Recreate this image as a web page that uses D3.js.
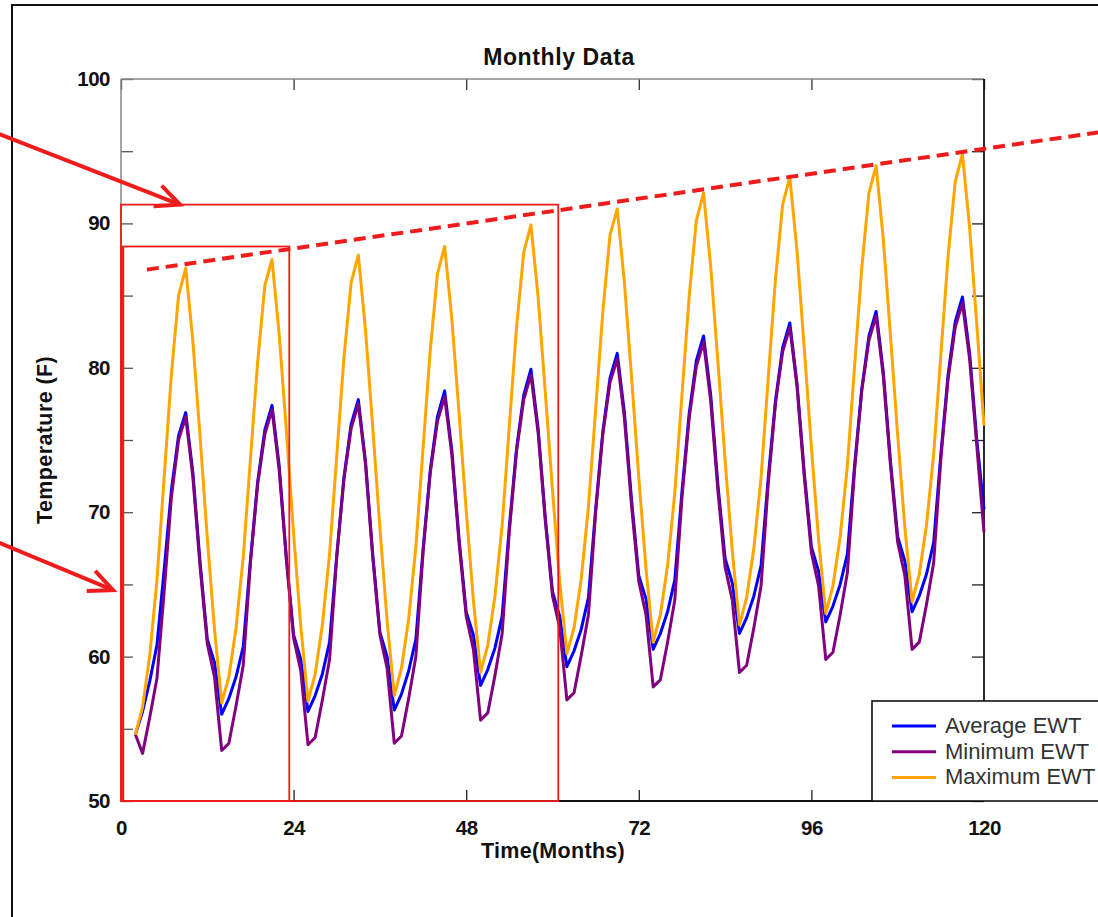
<!DOCTYPE html>
<html>
<head>
<meta charset="utf-8">
<script src="https://cdn.jsdelivr.net/npm/d3@7"></script>
<style>
  body { margin: 0; background: #fff; }
  svg { display: block; font-family: "Liberation Sans", Arial, sans-serif; }
</style>
</head>
<body>
<div id="chart"></div>
<script>
// monthly EWT data, month 2 .. 120
const months = d3.range(2, 121);

const maxEWT = [54.6, 56.5, 60.1, 65.3, 72.4, 79.5, 85.0, 86.9,
  81.8, 75.2, 68.2, 61.9, 56.8, 58.6, 62.0, 66.9, 73.7, 80.4, 85.7, 87.5,
  82.3, 75.6, 68.5, 62.1, 56.9, 58.8, 62.2, 67.1, 73.9, 80.7, 85.9, 87.8,
  82.6, 75.9, 68.9, 62.5, 57.3, 59.2, 62.6, 67.6, 74.4, 81.2, 86.5, 88.4,
  83.4, 76.9, 70.1, 63.9, 58.9, 60.8, 64.2, 69.1, 76.0, 82.8, 88.0, 89.9,
  84.9, 78.3, 71.5, 65.2, 60.2, 62.0, 65.4, 70.4, 77.1, 83.9, 89.2, 91.0,
  85.9, 79.3, 72.4, 66.1, 61.0, 62.9, 66.3, 71.3, 78.1, 84.9, 90.2, 92.1,
  87.0, 80.4, 73.6, 67.3, 62.2, 64.1, 67.5, 72.4, 79.3, 86.1, 91.3, 93.2,
  88.1, 81.4, 74.5, 68.1, 63.0, 64.9, 68.3, 73.2, 80.1, 86.9, 92.1, 94.0,
  88.9, 82.2, 75.3, 68.9, 63.8, 65.7, 69.1, 74.0, 80.9, 87.7, 92.9, 94.8,
  89.7, 83.0, 76.0];

const avgEWT = [54.6, 56.2, 58.3, 60.8, 66.0, 71.5, 75.3, 76.9,
  72.7, 66.5, 61.2, 59.6, 56.0, 57.1, 58.6, 60.7, 66.7, 72.1, 75.7, 77.4,
  73.2, 66.8, 61.5, 59.8, 56.2, 57.3, 58.8, 61.0, 67.0, 72.4, 76.1, 77.8,
  73.5, 67.1, 61.7, 60.0, 56.3, 57.4, 59.0, 61.2, 67.4, 72.9, 76.6, 78.4,
  74.3, 68.2, 63.1, 61.5, 58.0, 59.1, 60.6, 62.8, 69.0, 74.4, 78.1, 79.9,
  75.8, 69.6, 64.5, 62.8, 59.3, 60.4, 61.9, 64.1, 70.2, 75.6, 79.3, 81.0,
  76.9, 70.8, 65.6, 64.0, 60.5, 61.6, 63.1, 65.3, 71.4, 76.8, 80.5, 82.2,
  78.1, 71.9, 66.8, 65.1, 61.6, 62.7, 64.2, 66.3, 72.4, 77.7, 81.4, 83.1,
  78.9, 72.8, 67.6, 65.9, 62.4, 63.5, 65.0, 67.1, 73.2, 78.5, 82.2, 83.9,
  79.7, 73.5, 68.3, 66.6, 63.1, 64.2, 65.7, 67.9, 74.0, 79.5, 83.2, 84.9,
  81.0, 75.0, 70.2];

const minEWT = [54.6, 53.3, 55.8, 58.5, 64.5, 71.0, 75.0, 76.6,
  72.4, 66.2, 60.9, 58.6, 53.5, 54.0, 56.6, 59.4, 66.5, 71.9, 75.4, 77.1,
  72.9, 66.7, 61.3, 59.0, 53.9, 54.4, 57.0, 59.8, 66.9, 72.3, 75.8, 77.5,
  73.3, 66.9, 61.5, 59.2, 54.0, 54.5, 57.1, 60.0, 67.2, 72.7, 76.3, 78.0,
  74.0, 67.9, 62.8, 60.5, 55.6, 56.1, 58.7, 61.6, 68.7, 74.2, 77.8, 79.5,
  75.5, 69.4, 64.2, 62.0, 57.0, 57.5, 60.1, 62.9, 70.0, 75.4, 79.0, 80.6,
  76.5, 70.4, 65.2, 62.9, 57.9, 58.4, 61.0, 63.9, 71.0, 76.5, 80.1, 81.8,
  77.7, 71.5, 66.2, 63.9, 58.9, 59.4, 62.0, 64.9, 72.0, 77.5, 81.1, 82.8,
  78.7, 72.5, 67.2, 64.9, 59.8, 60.3, 62.9, 65.8, 72.9, 78.4, 81.9, 83.6,
  79.4, 73.2, 67.9, 65.6, 60.5, 61.0, 63.6, 66.5, 73.7, 79.2, 82.8, 84.5,
  80.6, 74.6, 68.6];

const seriesNames = ["Average EWT", "Minimum EWT", "Maximum EWT"];
const seriesColors = ["#0000ff", "#800080", "#ffa500"];
const xTicks = [0, 24, 48, 72, 96, 120];
const yTicks = [50, 55, 60, 65, 70, 75, 80, 85, 90, 95, 100];

// red annotations (data units)
const boxes = [ {x0: 0, x1: 23.4, y1: 88.4}, {x0: 0, x1: 60.8, y1: 91.3} ];
const trendLine = [ {m: 3.6, t: 86.8}, {m: 140, t: 96.6} ];
const arrows = [ {from: [-17, 96.2], to: [8.2, 91.3]}, {from: [-17, 67.9], to: [-1.1, 64.6]} ];

const W = 1098, H = 917;
const margin = {top: 79, right: 114, bottom: 116, left: 121};
const width = W - margin.left - margin.right,
      height = H - margin.top - margin.bottom;

const x = d3.scaleLinear().domain([0, 120]).range([0, width]);
const y = d3.scaleLinear().domain([50, 100]).range([height, 0]);

const svg = d3.select("#chart").append("svg")
    .attr("width", W).attr("height", H);

// outer frame of the slide
svg.append("rect")
    .attr("x", 12).attr("y", 5).attr("width", W + 20).attr("height", H + 20)
    .attr("fill", "none").attr("stroke", "#111").attr("stroke-width", 2);

const g = svg.append("g")
    .attr("transform", "translate(" + margin.left + "," + margin.top + ")");

//axes, ticks pointing inwards
function styleAxis(sel, col){
  sel.select(".domain").remove();
  sel.selectAll(".tick line").attr("stroke", col).attr("stroke-width", 1.3);
  sel.selectAll("text").attr("font-family", "'Liberation Sans', Arial, sans-serif")
     .attr("font-size", 20.5).attr("font-weight", "bold").attr("fill", "#111")
     .attr("letter-spacing", "-0.5px");
}

g.append("g")
    .call(d3.axisLeft(y).tickValues(yTicks).tickSize(-12).tickPadding(11)
      .tickFormat(d => d % 10 === 0 ? d : ""))
    .call(styleAxis, "#555");

g.append("g")
    .attr("transform", "translate(" + width + ",0)")
    .call(d3.axisRight(y).tickValues(yTicks).tickSize(-12).tickFormat(""))
    .call(styleAxis, "#222");

g.append("g")
    .attr("transform", "translate(0," + height + ")")
    .call(d3.axisBottom(x).tickValues(xTicks).tickSize(-11).tickPadding(19))
    .call(styleAxis, "#222");

g.append("g")
    .call(d3.axisTop(x).tickValues(xTicks).tickSize(-11).tickFormat(""))
    .call(styleAxis, "#333");

// box lines
g.append("line").attr("x1", 0).attr("x2", width).attr("y1", 0).attr("y2", 0)
    .attr("stroke", "#888").attr("stroke-width", 1.5);
g.append("line").attr("x1", 0).attr("x2", 0).attr("y1", 0).attr("y2", height)
    .attr("stroke", "#888").attr("stroke-width", 1.5);
g.append("line").attr("x1", width).attr("x2", width).attr("y1", 0).attr("y2", height)
    .attr("stroke", "#111").attr("stroke-width", 1.8);
g.append("line").attr("x1", 0).attr("x2", width).attr("y1", height).attr("y2", height)
    .attr("stroke", "#111").attr("stroke-width", 1.8);

// the three series
const series = [avgEWT, minEWT, maxEWT];
const line = d3.line().x((d, i) => x(months[i])).y(d => y(d));

series.forEach(function(s, k){
  g.append("path")
      .datum(s)
      .attr("fill", "none")
      .attr("stroke", seriesColors[k])
      .attr("stroke-width", 3)
      .attr("stroke-linejoin", "round")
      .attr("d", line);
});

// legend
const lg = svg.append("g").attr("transform", "translate(872,701)");
lg.append("rect").attr("width", 260).attr("height", 100)
    .attr("fill", "#fff").attr("stroke", "#111").attr("stroke-width", 1.6);
seriesNames.forEach(function(name, k){
  lg.append("line").attr("x1", 20).attr("x2", 64)
      .attr("y1", 25 + k * 25.7).attr("y2", 25 + k * 25.7)
      .attr("stroke", seriesColors[k]).attr("stroke-width", 3);
  lg.append("text").attr("x", 73).attr("y", 32 + k * 25.7)
      .attr("font-size", 22).attr("fill", "#333")
      .text(name);
});

// title and axis labels
svg.append("text")
    .attr("x", 559).attr("y", 65)
    .attr("text-anchor", "middle")
    .attr("font-size", 23).attr("font-weight", "bold").attr("fill", "#111")
    .attr("letter-spacing", "0.6px")
    .text("Monthly Data");

svg.append("text")
    .attr("x", 553).attr("y", 858)
    .attr("text-anchor", "middle")
    .attr("font-size", 21.5).attr("font-weight", "bold").attr("fill", "#111")
    .attr("letter-spacing", "0.3px")
    .text("Time(Months)");

svg.append("text")
    .attr("transform", "translate(52,440) rotate(-90)")
    .attr("text-anchor", "middle")
    .attr("font-size", 21.5).attr("font-weight", "bold").attr("fill", "#111")
    .attr("letter-spacing", "0.4px")
    .text("Temperature (F)");

// red annotations on top
const red = "#f01c1c";
boxes.forEach(function(b){
  g.append("rect")
      .attr("x", x(b.x0)).attr("y", y(b.y1))
      .attr("width", x(b.x1) - x(b.x0)).attr("height", y(50) - y(b.y1))
      .attr("fill", "none").attr("stroke", red).attr("stroke-width", 1.8);
});
g.append("line")
    .attr("x1", x(0) + 1.5).attr("x2", x(0) + 1.5)
    .attr("y1", y(boxes[0].y1)).attr("y2", y(50))
    .attr("stroke", red).attr("stroke-width", 3.5);

g.append("line")
    .attr("x1", x(trendLine[0].m)).attr("y1", y(trendLine[0].t))
    .attr("x2", x(trendLine[1].m)).attr("y2", y(trendLine[1].t))
    .attr("stroke", red).attr("stroke-width", 4)
    .attr("stroke-dasharray", "12,7");

svg.append("defs").append("marker")
    .attr("id", "head").attr("markerUnits", "userSpaceOnUse")
    .attr("viewBox", "-30 -15 34 30").attr("refX", 0).attr("refY", 0)
    .attr("markerWidth", 34).attr("markerHeight", 30).attr("orient", "auto")
  .append("path")
    .attr("d", "M-24,-11 L0,0 L-24,11")
    .attr("fill", "none").attr("stroke", red).attr("stroke-width", 4)
    .attr("stroke-linejoin", "miter");

arrows.forEach(function(a){
  g.append("line")
      .attr("x1", x(a.from[0])).attr("y1", y(a.from[1]))
      .attr("x2", x(a.to[0])).attr("y2", y(a.to[1]))
      .attr("stroke", red).attr("stroke-width", 4)
      .attr("marker-end", "url(#head)");
});
</script>
</body>
</html>
